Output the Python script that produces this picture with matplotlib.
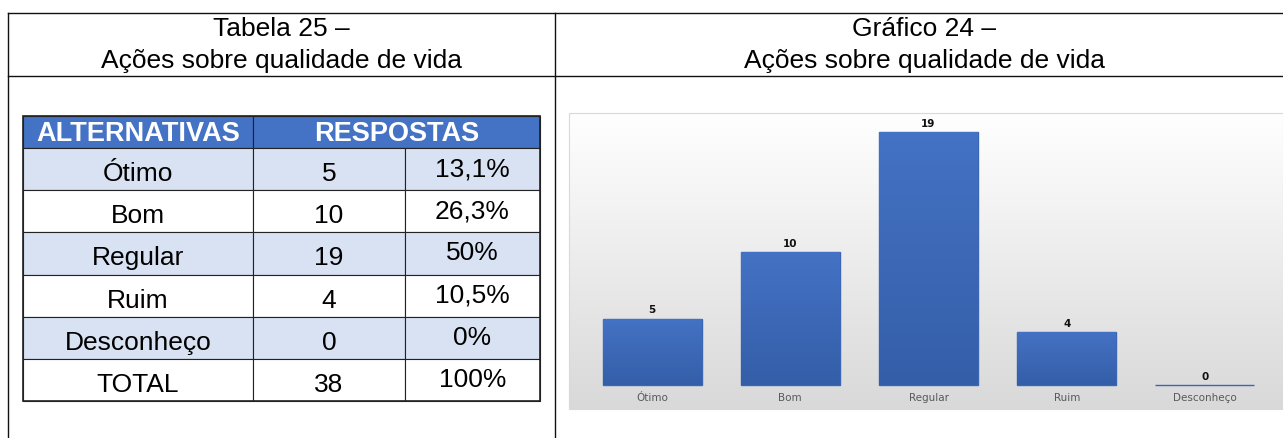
import matplotlib.pyplot as plt
import numpy as np
from matplotlib.patches import Rectangle

# data
categorias = ["Ótimo", "Bom", "Regular", "Ruim", "Desconheço"]
respostas = [5, 10, 19, 4, 0]
percentuais = ["13,1%", "26,3%", "50%", "10,5%", "0%"]
total_label = "TOTAL"
total_resp = 38
total_pct = "100%"

W, H = 1283, 439
FONT = "Liberation Sans"
BLUE = "#4472C4"
LIGHT = "#D9E2F3"

fig = plt.figure(figsize=(W / 100, H / 100), dpi=100)

# overlay axes in pixel coordinates
ax0 = fig.add_axes([0, 0, 1, 1])
ax0.set_xlim(0, W)
ax0.set_ylim(H, 0)
ax0.axis("off")

# document frame
lw = 1.0
ax0.plot([8, W], [14, 14], color="#111111", lw=lw)
ax0.plot([8, W], [77, 77], color="#111111", lw=lw)
ax0.plot([8, 8], [14, H], color="#111111", lw=lw)
ax0.plot([555, 555], [14, H], color="#111111", lw=lw)

# titles
tfs = 19
ax0.text(281.5, 29, "Tabela 25 –", ha="center", va="center", fontsize=tfs, family=FONT)
ax0.text(281.5, 61, "Ações sobre qualidade de vida", ha="center", va="center", fontsize=tfs, family=FONT)
ax0.text(924, 29, "Gráfico 24 –", ha="center", va="center", fontsize=tfs, family=FONT)
ax0.text(924, 61, "Ações sobre qualidade de vida", ha="center", va="center", fontsize=tfs, family=FONT)

# table
xs = [23, 253, 405, 540]
ys = [117, 149]
n_rows = len(categorias) + 1
row_h = (402 - 149) / n_rows
for i in range(n_rows):
    ys.append(149 + row_h * (i + 1))

# header
ax0.add_patch(Rectangle((xs[0], ys[0]), xs[1] - xs[0], ys[1] - ys[0], facecolor=BLUE, edgecolor="#222222", lw=0.8))
ax0.add_patch(Rectangle((xs[1], ys[0]), xs[3] - xs[1], ys[1] - ys[0], facecolor=BLUE, edgecolor="#222222", lw=0.8))
ax0.text((xs[0] + xs[1]) / 2, 134, "ALTERNATIVAS", ha="center", va="center", fontsize=19.5, family=FONT,
         fontweight="bold", color="white")
ax0.text((xs[1] + xs[3]) / 2, 134, "RESPOSTAS", ha="center", va="center", fontsize=19.5, family=FONT,
         fontweight="bold", color="white")

cfs = 19
rows = list(zip(categorias, respostas, percentuais)) + [(total_label, total_resp, total_pct)]
for i, (nome, n, pct) in enumerate(rows):
    y0, y1 = ys[i + 1], ys[i + 2]
    fc = LIGHT if i % 2 == 0 and i < len(categorias) else "white"
    for c in range(3):
        ax0.add_patch(Rectangle((xs[c], y0), xs[c + 1] - xs[c], y1 - y0, facecolor=fc,
                                edgecolor="#222222", lw=0.8))
    yc = (y0 + y1) / 2
    ax0.text((xs[0] + xs[1]) / 2, yc + 4, nome, ha="center", va="center", fontsize=cfs, family=FONT)
    ax0.text((xs[1] + xs[2]) / 2, yc + 4, str(n), ha="center", va="center", fontsize=cfs, family=FONT)
    ax0.text((xs[2] + xs[3]) / 2, yc - 1, pct, ha="center", va="center", fontsize=cfs, family=FONT)
ax0.add_patch(Rectangle((xs[0], ys[0]), xs[3] - xs[0], ys[-1] - ys[0], facecolor="none",
                        edgecolor="#222222", lw=1.2))

# chart background gradient
grad = np.linspace(1.0, 0.85, 256).reshape(-1, 1)
bg = np.dstack([grad, grad, grad])
ax0.imshow(bg, extent=(569, W, 410, 114), aspect="auto", origin="upper", zorder=1)
ax0.add_patch(Rectangle((569, 114), W - 569, 296, facecolor="none", edgecolor="#d9d9d9", lw=0.8, zorder=2))

# chart axes
ax = fig.add_axes([583 / W, (H - 386) / H, 691 / W, 266 / H])
ax.set_facecolor("none")
x = np.arange(len(categorias))
bars = ax.bar(x, respostas, width=0.715, color=BLUE, edgecolor="#3a66b5", linewidth=1.0, zorder=2)
for b in bars:
    b.set_clip_on(False)

# vertical gradient inside the bars
bar_grad = np.linspace(0, 1, 256).reshape(-1, 1)
top = np.array([0x44, 0x72, 0xC4]) / 255
bot = np.array([0x34, 0x5E, 0xA8]) / 255
bar_img = top[None, None, :] * (1 - bar_grad[..., None]) + bot[None, None, :] * bar_grad[..., None]
for b in bars:
    if b.get_height() > 0:
        im = ax.imshow(bar_img, extent=(b.get_x(), b.get_x() + b.get_width(), 0, b.get_height()),
                       aspect="auto", origin="upper", zorder=2.5)
        im.set_clip_path(b)
ax.set_xlim(-0.5, len(categorias) - 0.5)
ax.set_ylim(0, 20)

ax.bar_label(bars, labels=[str(v) for v in respostas], padding=3, fontsize=7.5,
             fontweight="bold", color="#111111")
ax.set_xticks(x)
ax.set_xticklabels(categorias, fontsize=7.5, color="#595959")
ax.tick_params(axis="x", length=0, pad=5)
ax.set_yticks([])
for s in ax.spines.values():
    s.set_visible(False)

fig.savefig("out.png", dpi=100)
